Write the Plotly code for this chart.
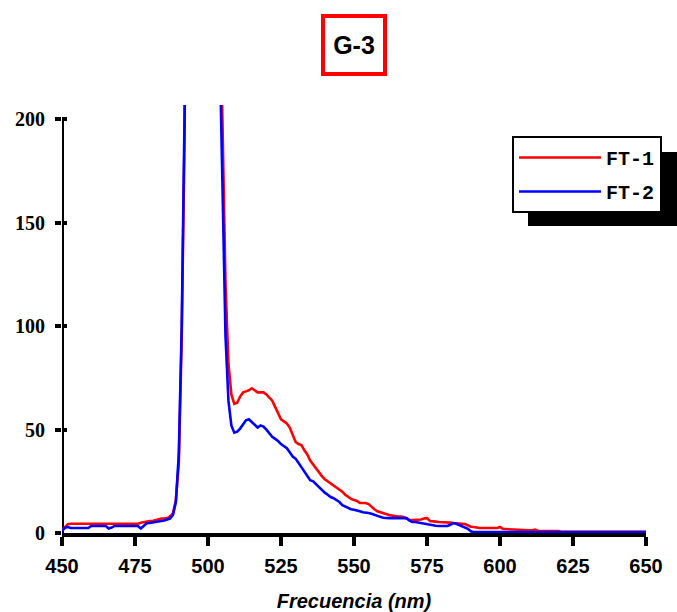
import plotly.graph_objects as go

wavelength = list(range(450, 651))

ft1 = [
    1.4, 3.0, 4.3, 4.5, 4.5, 4.5, 4.5, 4.5, 4.5, 4.5,
    4.5, 4.5, 4.5, 4.5, 4.5, 4.5, 4.5, 4.5, 4.5, 4.5,
    4.5, 4.5, 4.5, 4.5, 4.5, 4.5, 4.5, 5.0, 5.3, 5.5,
    5.8, 5.8, 6.3, 6.8, 7.0, 7.0, 7.2, 8.0, 9.5, 16,
    34, 95, 195, 420, 760, 1050, 1200, 1250, 1230, 1150,
    1000, 800, 600, 420, 270, 195, 120, 82, 67, 62.5,
    63, 66, 68, 68.5, 69, 70, 69, 68, 68, 68,
    67, 65.5, 64, 61, 58, 55, 54, 53, 51, 47,
    44, 43, 42.5, 40, 38, 35, 33, 31, 29, 27.5,
    26, 25, 24, 23, 22, 21, 20, 18.5, 17.4, 16.5,
    16, 15.5, 14.5, 14.5, 14.5, 14, 12.5, 11.5, 10.5, 10,
    9.5, 9, 8.7, 8.5, 8.2, 8, 8, 7.7, 7, 6.3,
    6.3, 6.3, 6.3, 6.5, 7, 7.2, 5.8, 5.8, 5.5, 5.3,
    5.3, 5.3, 5, 5, 4.8, 4.8, 4.8, 4.5, 4.3, 3.5,
    3, 2.9, 2.6, 2.4, 2.4, 2.4, 2.4, 2.4, 2.4, 2.4,
    2.9, 2.0, 1.9, 1.8, 1.6, 1.5, 1.4, 1.3, 1.3, 1.3,
    1.3, 1.3, 1.6, 1.1, 1.1, 1.1, 1.1, 1.1, 1.1, 1.1,
    1.0, 0.6, 0.6, 0.6, 0.6, 0.6, 0.6, 0.6, 0.6, 0.6,
    0.6, 0.6, 0.6, 0.6, 0.6, 0.6, 0.6, 0.6, 0.6, 0.6,
    0.6, 0.6, 0.6, 0.6, 0.6, 0.6, 0.6, 0.6, 0.6, 0.6,
    0.6,
]

ft2 = [
    1.0, 2.5, 2.9, 2.4, 2.4, 2.4, 2.4, 2.4, 2.4, 2.4,
    3.4, 3.4, 3.4, 3.4, 3.4, 3.4, 2.2, 2.6, 3.4, 3.4,
    3.4, 3.4, 3.4, 3.4, 3.4, 3.4, 3.4, 2.2, 3.6, 4.7,
    4.8, 5.0, 5.3, 5.5, 5.8, 6.0, 6.5, 7.0, 8.7, 15,
    38, 100, 205, 430, 780, 1050, 1180, 1220, 1200, 1100,
    950, 760, 560, 380, 235, 165, 95, 64, 52, 48.5,
    49, 50.5, 52.5, 54.5, 55, 53.5, 52, 51, 52, 51.5,
    50, 48, 46.5, 45.5, 44.5, 43, 42, 41, 39, 37,
    36, 34, 32, 30, 27.5, 25.5, 25, 23.5, 22, 20.5,
    19.5, 18.5, 17.4, 16.8, 16, 15, 13.5, 12.8, 12, 11.5,
    11.2, 11, 10.5, 10, 10, 9.7, 9.3, 8.7, 8.2, 7.8,
    7.4, 7.2, 7.2, 7.2, 7.2, 7.2, 7.2, 7.2, 7.2, 6.0,
    5.3, 5.3, 5.0, 4.8, 4.5, 4.3, 4.1, 3.8, 3.5, 3.4,
    3.4, 3.4, 3.4, 4.0, 4.8, 4.5, 3.9, 3.4, 2.6, 2.0,
    0.8, 0.4, 0.4, 0.4, 0.4, 0.4, 0.4, 0.4, 0.4, 0.4,
    0.4, 0.4, 0.4, 0.4, 0.4, 0.4, 0.4, 0.4, 0.4, 0.4,
    0.4, 0.4, 0.4, 0.4, 0.4, 0.4, 0.4, 0.4, 0.4, 0.4,
    0.4, 0.4, 0.4, 0.4, 0.4, 0.4, 0.4, 0.4, 0.4, 0.4,
    0.4, 0.4, 0.4, 0.4, 0.4, 0.4, 0.4, 0.4, 0.4, 0.4,
    0.4, 0.4, 0.4, 0.4, 0.4, 0.4, 0.4, 0.4, 0.4, 0.4,
    0.4,
]

x_ticks = [450, 475, 500, 525, 550, 575, 600, 625, 650]
y_ticks = [0, 50, 100, 150, 200]
series_names = ["FT-1", "FT-2"]
series_colors = ["#ff0000", "#0000ff"]

fig = go.Figure()
for name, vals, col in zip(series_names, [ft1, ft2], series_colors):
    fig.add_trace(go.Scatter(x=wavelength, y=vals, mode="lines", name=name, legendgroup=name,
                             line=dict(color=col, width=2.6)))

# invisible trace on overlay axis to give the inside ticks
fig.add_trace(go.Scatter(x=[450], y=[0], yaxis="y2", mode="markers",
                         marker=dict(opacity=0), showlegend=False, hoverinfo="skip"))

fig.update_layout(
    width=677, height=612,
    margin=dict(l=62, r=31, t=105, b=79, autoexpand=False),
    paper_bgcolor="white", plot_bgcolor="white",
    showlegend=True,
    xaxis=dict(range=[450, 650], tickvals=x_ticks, showgrid=False, zeroline=False,
               automargin=False,
               showline=True, linecolor="black", linewidth=4, layer="below traces",
               ticks="outside", ticklen=9, tickwidth=4, tickcolor="black",
               ticklabelstandoff=3,
               tickfont=dict(family="Arial, Liberation Sans", size=20, color="black", weight="bold"),
               title=dict(text="Frecuencia (nm)", standoff=20,
                          font=dict(family="Arial, Liberation Sans", size=20, color="black",
                                    weight="bold", style="italic"))),
    yaxis=dict(range=[0, 207], tickvals=y_ticks, showgrid=False, zeroline=False,
               automargin=False,
               showline=False, ticks="outside", ticklen=6, tickwidth=4, tickcolor="black",
               ticklabelstandoff=6,
               tickfont=dict(family="Times New Roman, Liberation Serif", size=20, color="black", weight="bold")),
    yaxis2=dict(range=[0, 207], tickvals=y_ticks, overlaying="y", side="left",
                automargin=False,
                showgrid=False, zeroline=False, showline=False, showticklabels=False,
                ticks="inside", ticklen=5, tickwidth=4, tickcolor="black"),
    legend=dict(x=(512 - 62) / 584, y=(533 - 136) / 428, xanchor="left", yanchor="top",
                bgcolor="white", bordercolor="black", borderwidth=2, itemwidth=82,
                tracegroupgap=5,
                font=dict(family="Courier New, Liberation Mono", size=20, color="black", weight="bold")),
)

# y axis line from 0 to 200 only
fig.add_shape(type="line", xref="x", yref="y", x0=450, x1=450, y0=0, y1=200,
              line=dict(color="black", width=4), layer="below")
# legend shadow
fig.add_shape(type="rect", xref="paper", yref="paper",
              x0=(528 - 62) / 584, x1=(680 - 62) / 584,
              y0=(533 - 226) / 428, y1=(533 - 152) / 428,
              fillcolor="black", line=dict(width=0), layer="above")

fig.add_annotation(text="G-3", xref="paper", yref="paper", x=0.5, y=(533 - 45) / 428,
                   xanchor="center", yanchor="middle", showarrow=False,
                   font=dict(family="Arial, Liberation Sans", size=25, color="black", weight="bold"),
                   width=58, height=54, borderpad=0, bordercolor="#ff0000", borderwidth=4,
                   bgcolor="white")

fig.write_html("out.html")
